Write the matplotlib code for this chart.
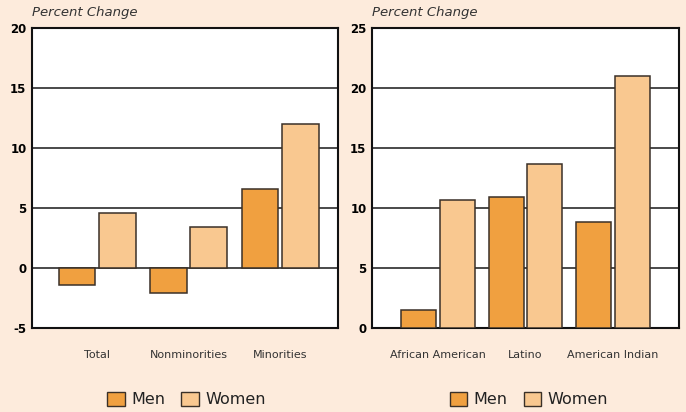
import matplotlib
matplotlib.use("Agg")
import matplotlib.pyplot as plt
from matplotlib.patches import Patch
import numpy as np

plt.rcParams["axes.unicode_minus"] = False

# left panel
groups_l = ["Total", "Nonminorities", "Minorities"]
men_l = [-1.4, -2.1, 6.6]
women_l = [4.6, 3.4, 12.0]

# right panel
groups_r = ["African American", "Latino", "American Indian"]
men_r = [1.5, 10.9, 8.8]
women_r = [10.7, 13.7, 21.0]

bg = "#fdebdc"
c_men = "#f0a040"
c_women = "#f9c890"
edge = "#3a3028"

fig = plt.figure(figsize=(6.86, 4.12), dpi=100, facecolor=bg)


def panel(rect, groups, men, women, ylim, xlim, legx):
    ax = fig.add_axes(rect)
    x = np.arange(len(groups))
    w = 0.4
    gap = 0.02
    ax.bar(x - w / 2 - gap, men, w, color=c_men, edgecolor=edge, linewidth=1.1, zorder=3)
    ax.bar(x + w / 2 + gap, women, w, color=c_women, edgecolor=edge, linewidth=1.1, zorder=3)
    ax.set_ylim(*ylim)
    ax.set_xlim(*xlim)
    ax.set_yticks(np.arange(ylim[0], ylim[1] + 1, 5))
    ax.set_xticks(x)
    ax.set_xticklabels(groups, fontsize=8, color="#333333")
    ax.tick_params(axis="x", length=0, pad=16)
    ax.tick_params(axis="y", length=0, pad=4, labelsize=8.5)
    for t in ax.get_yticklabels():
        t.set_fontweight("bold")
    ax.yaxis.grid(True, color="#4a4a4a", linewidth=1.4, zorder=1)
    ax.set_axisbelow(True)
    for s in ax.spines.values():
        s.set_color("#111111")
        s.set_linewidth(1.5)
    ax.text(0.0, 1.03, "Percent Change", transform=ax.transAxes, fontsize=9.5,
            style="italic", color="#333333", ha="left", va="bottom")
    handles = [Patch(facecolor=c_men, edgecolor=edge, label="Men"),
               Patch(facecolor=c_women, edgecolor=edge, label="Women")]
    fig.legend(handles=handles, loc="center", bbox_to_anchor=(legx, 0.03), ncol=2,
               frameon=False, fontsize=11.5, handlelength=1.1, handleheight=1.0,
               handletextpad=0.4, columnspacing=1.0, labelcolor="#222222")
    return ax


panel([32 / 686, 1 - 328 / 412, 306 / 686, 300 / 412], groups_l, men_l, women_l,
      (-5, 20), (-0.71, 2.63), 0.272)
panel([372 / 686, 1 - 328 / 412, 307 / 686, 300 / 412], groups_r, men_r, women_r,
      (0, 25), (-0.754, 2.754), 0.771)

fig.savefig("out.png", dpi=100, facecolor=bg)
